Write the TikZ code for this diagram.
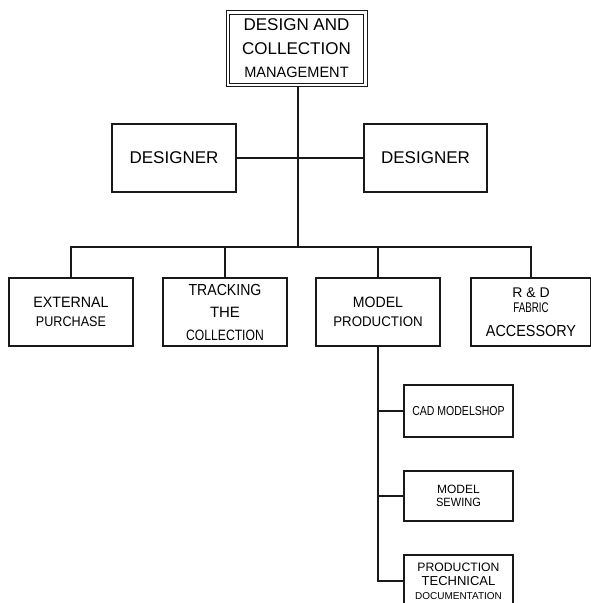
\documentclass[tikz,border=0pt]{standalone}
\usepackage{fontspec}
\usepackage{graphicx}
\usetikzlibrary{calc}
\setmainfont{Liberation Sans}
\newcommand{\bl}[3]{\scalebox{#2}[1]{\fontsize{#1}{#1}\selectfont #3}}
\tikzset{
  orgbox/.style={draw=black!90, line width=1.3pt, inner sep=0pt, align=center},
  conn/.style={draw=black!90, line width=1.3pt},
}
\begin{document}
\begin{tikzpicture}[x=1pt,y=-1pt]
\useasboundingbox (0,0) rectangle (590,603);
% top box (double border)
\node[orgbox, line width=1pt, minimum width=134pt, minimum height=69pt,
      font=\fontsize{17}{23.5}\selectfont] (top) at (296.5,48.5)
  {\bl{17}{1}{DESIGN AND}\\\bl{17}{1}{COLLECTION}\\\bl{15}{0.97}{MANAGEMENT}};
\draw[draw=black!90, line width=1pt] ($(top.north west)+(-3,-3)$) rectangle ($(top.south east)+(3,3)$);
% designers
\node[orgbox, minimum width=124pt, minimum height=68pt] (d1) at (174,158) {\bl{17}{1}{DESIGNER}};
\node[orgbox, minimum width=123pt, minimum height=68pt] (d2) at (425.5,158) {\bl{17}{1}{DESIGNER}};
% second row
\node[orgbox, minimum width=124pt, minimum height=68pt, font=\fontsize{15}{18.4}\selectfont] (ext) at (71,312)
  {\bl{15}{0.95}{EXTERNAL}\\\bl{14}{0.9}{PURCHASE}};
\node[orgbox, minimum width=124pt, minimum height=68pt, font=\fontsize{15}{22.5}\selectfont] (trk) at (225,312)
  {\bl{16}{0.88}{TRACKING}\\\bl{15}{1}{THE}\\\bl{15}{0.81}{COLLECTION}};
\node[orgbox, minimum width=124pt, minimum height=68pt, font=\fontsize{15}{18.4}\selectfont] (mod) at (378,312)
  {\bl{15}{0.94}{MODEL}\\\bl{14}{0.95}{PRODUCTION}};
\node[orgbox, minimum width=120pt, minimum height=68pt, font=\fontsize{14}{15.6}\selectfont] (rnd) at (531,312)
  {\bl{14}{1}{R \& D}\\\bl{14}{0.7}{FABRIC}\\[7.8pt]\bl{16}{0.9}{ACCESSORY}};
% model production sub-boxes
\node[orgbox, minimum width=109pt, minimum height=52pt] (cad) at (458.5,411) {\bl{13}{0.81}{CAD MODELSHOP}};
\node[orgbox, minimum width=109pt, minimum height=50pt, font=\fontsize{12}{13.4}\selectfont] (sew) at (458.5,496)
  {\bl{12}{1}{MODEL}\\\bl{12}{0.92}{SEWING}};
\node[orgbox, minimum width=109pt, minimum height=52pt, font=\fontsize{12}{14}\selectfont] (ptd) at (458.5,581)
  {\bl{12.2}{1}{PRODUCTION}\\\bl{13}{1}{TECHNICAL}\\\bl{10}{1}{DOCUMENTATION}};
% connectors
\coordinate (bar) at (298,247);
\draw[conn] ($(bar |- top.south)+(0,3)$) -- (bar);
\draw[conn] (d1.east) -- (d2.west);
\draw[conn] (ext.north) |- (bar) -| (rnd.north);
\draw[conn] (trk.north) -- (trk.north |- bar);
\draw[conn] (mod.north) -- (mod.north |- bar);
\draw[conn] (mod.south) |- (ptd.west);
\draw[conn] (mod.south |- cad.west) -- (cad.west);
\draw[conn] (mod.south |- sew.west) -- (sew.west);
\end{tikzpicture}
\end{document}
